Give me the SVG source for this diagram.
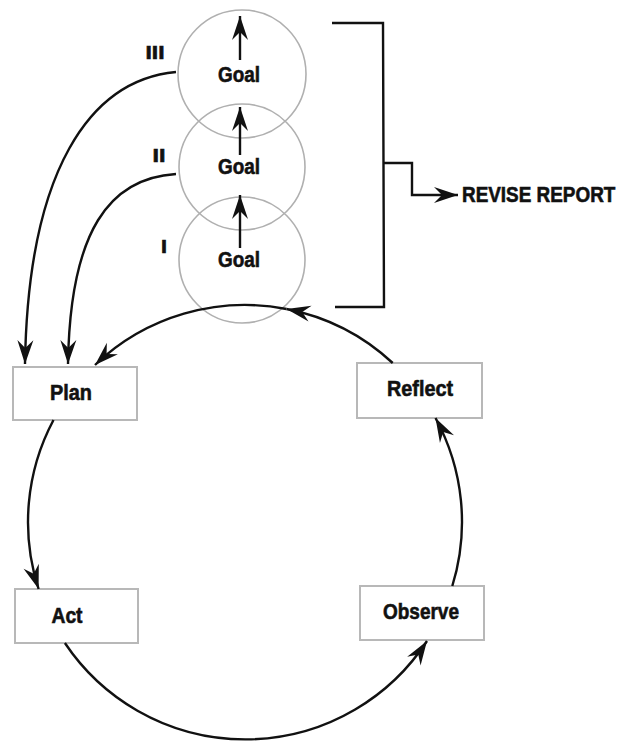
<svg xmlns="http://www.w3.org/2000/svg" width="617" height="744" viewBox="0 0 617 744">
  <style>
    .label { font-family: "Liberation Sans", Arial, sans-serif; font-weight: bold; fill: #111; stroke: #111; stroke-width: 0.6; }
    .box { fill: #fff; stroke: #b8b8b8; stroke-width: 2; }
    .goal { fill: none; stroke: #b0b0b0; stroke-width: 1.6; }
    .link { fill: none; stroke: #111; stroke-width: 2.4; }
  </style>
  <defs>
    <!-- barbed arrowhead, tip at (26,9) -->
    <marker id="head" markerUnits="userSpaceOnUse" markerWidth="28" markerHeight="18" refX="26" refY="9" orient="auto">
      <path d="M26,9 L2,1 L10,9 L2,17 Z" fill="#111"/>
    </marker>
  </defs>

  <rect width="617" height="744" fill="#fff"/>

  <!-- stacked goal circles -->
  <g id="goal-3">
    <circle class="goal" cx="242" cy="74" r="64"/>
    <text class="label" x="239" y="82" font-size="22" text-anchor="middle" textLength="42" lengthAdjust="spacingAndGlyphs">Goal</text>
    <text class="label" x="155" y="59" font-size="19" text-anchor="middle" textLength="19" lengthAdjust="spacingAndGlyphs">III</text>
  </g>
  <g id="goal-2">
    <circle class="goal" cx="242" cy="167" r="63"/>
    <text class="label" x="239" y="174" font-size="22" text-anchor="middle" textLength="42" lengthAdjust="spacingAndGlyphs">Goal</text>
    <text class="label" x="159" y="162" font-size="19" text-anchor="middle" textLength="13" lengthAdjust="spacingAndGlyphs">II</text>
  </g>
  <g id="goal-1">
    <circle class="goal" cx="242" cy="260" r="63"/>
    <text class="label" x="239" y="267" font-size="22" text-anchor="middle" textLength="42" lengthAdjust="spacingAndGlyphs">Goal</text>
    <text class="label" x="164" y="253" font-size="19" text-anchor="middle" textLength="6" lengthAdjust="spacingAndGlyphs">I</text>
  </g>

  <!-- cycle stages -->
  <g id="plan">
    <rect class="box" x="13" y="367" width="124" height="53"/>
    <text class="label" x="71" y="400" font-size="22" text-anchor="middle" textLength="42" lengthAdjust="spacingAndGlyphs">Plan</text>
  </g>
  <g id="act">
    <rect class="box" x="15" y="589" width="123" height="54"/>
    <text class="label" x="67" y="623" font-size="22" text-anchor="middle" textLength="31" lengthAdjust="spacingAndGlyphs">Act</text>
  </g>
  <g id="observe">
    <rect class="box" x="360" y="586" width="124" height="54"/>
    <text class="label" x="421" y="619" font-size="22" text-anchor="middle" textLength="76" lengthAdjust="spacingAndGlyphs">Observe</text>
  </g>
  <g id="reflect">
    <rect class="box" x="357" y="363" width="125" height="55"/>
    <text class="label" x="420" y="396" font-size="22" text-anchor="middle" textLength="66" lengthAdjust="spacingAndGlyphs">Reflect</text>
  </g>
  <g id="revise-report">
    <text class="label" transform="translate(462,202) scale(0.86,1)" x="0" y="0" font-size="22">REVISE REPORT</text>
  </g>

  <g id="connectors">
    <!-- goal progression arrows -->
    <path class="link" d="M240,60 L240,16" marker-end="url(#head)"/>
    <path class="link" d="M240,155 L240,107" marker-end="url(#head)"/>
    <path class="link" d="M240,248 L240,195" marker-end="url(#head)"/>

    <!-- goals feeding back into planning -->
    <path class="link" d="M176,72 C90,80 28,170 25,364" marker-end="url(#head)"/>
    <path class="link" d="M176,174 C110,178 70,230 68,364" marker-end="url(#head)"/>

    <!-- action research cycle (circle centre 245,522 r 217) -->
    <path class="link" d="M53.5,420 A217,217 0 0 0 38.6,589" marker-end="url(#head)"/>
    <path class="link" d="M64.9,643 A217,217 0 0 0 427,641" marker-end="url(#head)"/>
    <path class="link" d="M452.3,586 A217,217 0 0 0 435.5,418" marker-end="url(#head)"/>
    <path class="link" d="M392.7,363 A217,217 0 0 0 286.5,309" marker-end="url(#head)"/>
    <path class="link" d="M286.5,309 A217,217 0 0 0 95,365" marker-end="url(#head)"/>

    <!-- bracket to revise report -->
    <path class="link" d="M332,23 L383,23 L384,307 L335,307"/>
    <path class="link" d="M384,163 L412,163 L412,195 L458,195" marker-end="url(#head)"/>
  </g>
</svg>
